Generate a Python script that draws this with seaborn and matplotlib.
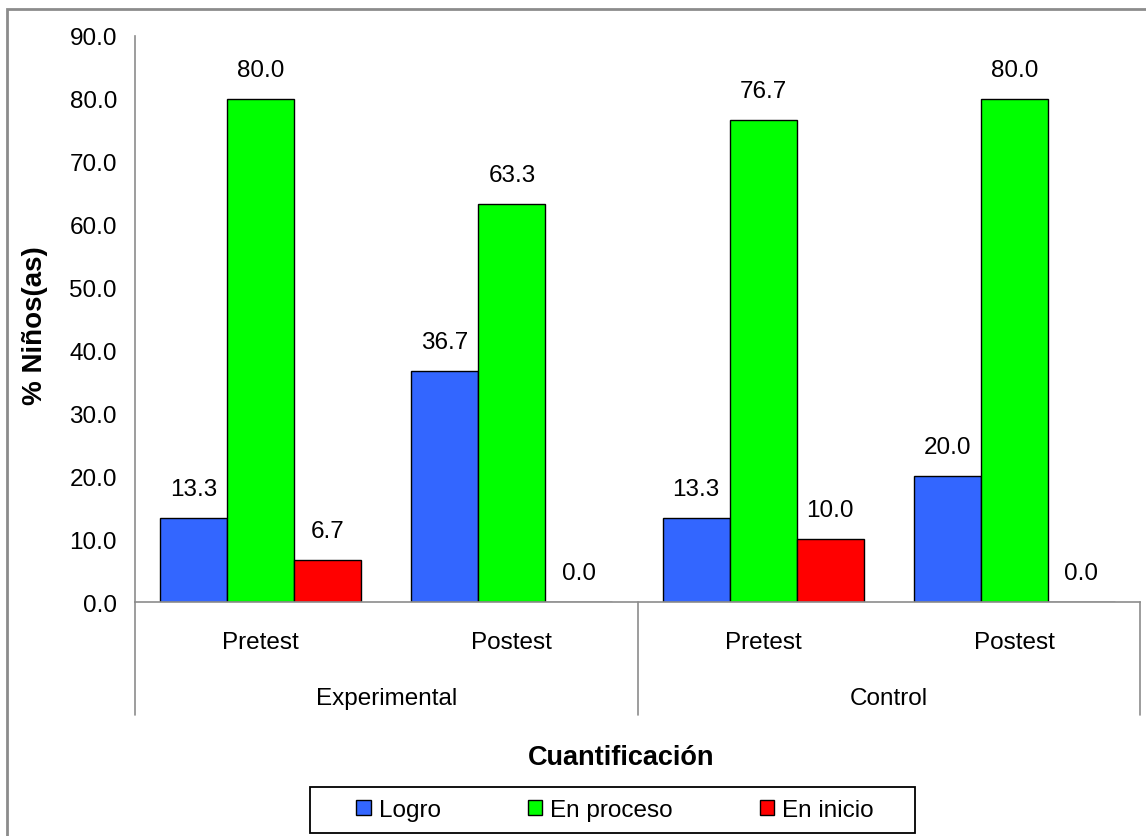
import matplotlib
matplotlib.use("Agg")
import matplotlib.pyplot as plt
from matplotlib.patches import Rectangle
import seaborn as sns
import pandas as pd

groups = ["Experimental", "Experimental", "Control", "Control"]
phases = ["Pretest", "Postest", "Pretest", "Postest"]
levels = ["Logro", "En proceso", "En inicio"]
logro = [13.3, 36.7, 13.3, 20.0]
en_proceso = [80.0, 63.3, 76.7, 80.0]
en_inicio = [6.7, 0.0, 10.0, 0.0]
colors = ["#3366FF", "#00FF00", "#FF0000"]
y_ticks = [0, 10, 20, 30, 40, 50, 60, 70, 80, 90]

keys = [f"{g} {p}" for g, p in zip(groups, phases)]
rows = []
for lvl, vals in zip(levels, [logro, en_proceso, en_inicio]):
    for k, v in zip(keys, vals):
        rows.append({"cat": k, "nivel": lvl, "pct": v})
df = pd.DataFrame(rows)

sns.set_style("white")
plt.rcParams["font.family"] = ["Liberation Sans", "DejaVu Sans"]
for key in ["text.color", "axes.labelcolor", "xtick.color", "ytick.color"]:
    plt.rcParams[key] = "black"

FS = 17.5
W, H = 1146, 837

fig = plt.figure(figsize=(W / 100, H / 100), dpi=100)
ax = fig.add_axes([135 / W, 1 - 603 / H, (1140 - 135) / W, (603 - 37) / H])

sns.barplot(data=df, x="cat", y="pct", hue="nivel", order=keys, hue_order=levels,
            palette=colors, edgecolor="black", linewidth=1.0, width=0.8,
            saturation=1, ax=ax, legend=True)

for cont in ax.containers:
    ax.bar_label(cont, fmt="%.1f", padding=13, fontsize=FS, color="black")

ax.set_ylim(0, 90)
ax.set_yticks(y_ticks)
ax.set_yticklabels([f"{t:.1f}" for t in y_ticks], fontsize=FS)
ax.set_xlim(-0.5, 3.5)
ax.set_xticks(range(4))
ax.set_xticklabels([])
ax.tick_params(axis="both", length=0, pad=13)
ax.set_xlabel("")
ax.set_ylabel("% Niños(as)", fontsize=20, fontweight="bold")
ax.yaxis.set_label_coords(-0.087, 0.49)

for s in ["top", "right"]:
    ax.spines[s].set_visible(False)
for s in ["left", "bottom"]:
    ax.spines[s].set_color("#8c8c8c")
    ax.spines[s].set_linewidth(1.2)

# phase labels and group labels on the two-level category axis
trans = ax.get_xaxis_transform()
for i, p in enumerate(phases):
    ax.text(i, -0.0707, p, transform=trans, ha="center", va="center", fontsize=FS)
for gi, g in enumerate(["Experimental", "Control"]):
    ax.text(gi * 2 + 0.5, -0.1696, g, transform=trans, ha="center", va="center", fontsize=FS)
for xv in [-0.5, 1.5, 3.5]:
    ax.plot([xv, xv], [0, -0.1996], transform=trans, color="#8c8c8c", lw=1.2, clip_on=False)

ax.get_legend().remove()
handles = [Rectangle((0, 0), 1, 1, facecolor=c, edgecolor="black", linewidth=1) for c in colors]
leg = fig.legend(handles, levels, loc="center", bbox_to_anchor=(615 / W, 1 - 811 / H),
                 ncol=3, fontsize=FS, frameon=False, handlelength=0.6,
                 handleheight=0.6, handletextpad=0.33, columnspacing=3.58,
                 borderpad=0.3)
fig.patches.append(Rectangle((310 / W, 1 - 834 / H), (915 - 310) / W, 46 / H,
                             transform=fig.transFigure, fill=False,
                             edgecolor="black", linewidth=1.3, zorder=3))

fig.text(621 / W, 1 - 758 / H, "Cuantificación", ha="center", va="center",
         fontsize=19.5, fontweight="bold")

fig.patches.append(Rectangle((7 / W, -0.05), 1.1, 1 - 10 / H + 0.05,
                             transform=fig.transFigure, fill=False,
                             edgecolor="#8c8c8c", linewidth=2, zorder=0))

fig.savefig("out.png", dpi=100)
